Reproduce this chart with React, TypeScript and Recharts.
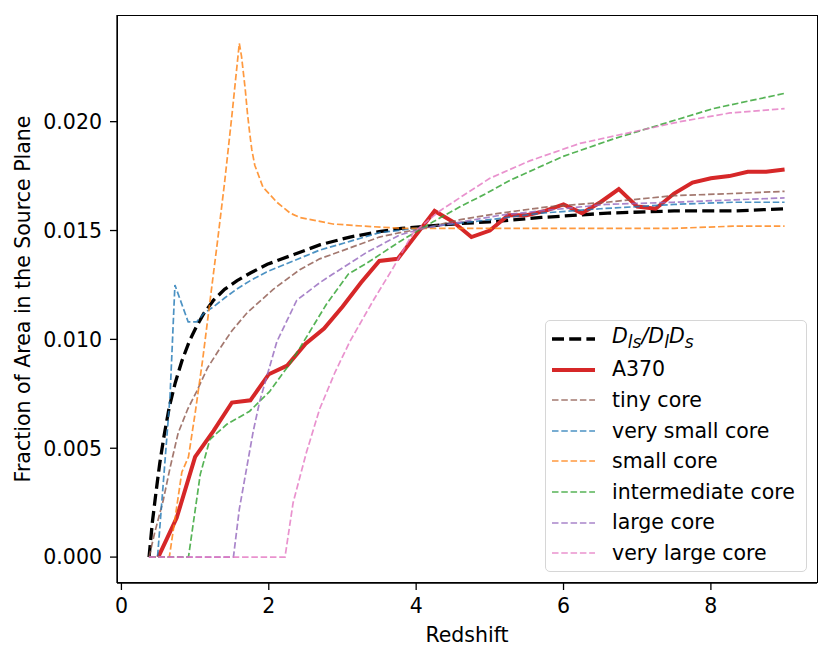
import { LineChart, Line, XAxis, YAxis, Legend } from 'recharts'

const FONT = '"DejaVu Sans", sans-serif'
const FONT_SIZE = 20.5

// redshift grids and fractions
const zLens = [0.375, 0.42, 0.47, 0.52, 0.58, 0.65, 0.73, 0.82, 0.92, 1.02, 1.12, 1.25, 1.4, 1.57, 1.75, 1.98, 2.34, 2.7, 3.1, 3.5, 3.8, 4.5, 5.0, 5.7, 6.6, 7.5, 8.3, 9.0]
const lensRatio = [0, 0.0016, 0.003, 0.0043, 0.0056, 0.0069, 0.008, 0.009, 0.0099, 0.0106, 0.0112, 0.0118, 0.0123, 0.0127, 0.01305, 0.01345, 0.0139, 0.01435, 0.0147, 0.01495, 0.0151, 0.0153, 0.0154, 0.0156, 0.0158, 0.0159, 0.0159, 0.016]

const zA370 = [0.5, 0.75, 1.0, 1.25, 1.5, 1.75, 2.0, 2.25, 2.5, 2.75, 3.0, 3.25, 3.5, 3.75, 4.0, 4.25, 4.5, 4.75, 5.0, 5.25, 5.5, 5.75, 6.0, 6.25, 6.5, 6.75, 7.0, 7.25, 7.5, 7.75, 8.0, 8.25, 8.5, 8.75, 9.0]
const a370 = [0, 0.0018, 0.0046, 0.0058, 0.0071, 0.0072, 0.0084, 0.0088, 0.0098, 0.0105, 0.0115, 0.0126, 0.0136, 0.0137, 0.0148, 0.0159, 0.0154, 0.0147, 0.015, 0.0157, 0.0157, 0.0159, 0.0162, 0.0158, 0.0163, 0.0169, 0.0161, 0.016, 0.0167, 0.0172, 0.0174, 0.0175, 0.0177, 0.0177, 0.0178]

const zTiny = [0.375, 0.45, 0.567, 0.66, 0.77, 0.9, 1.02, 1.17, 1.34, 1.5, 1.7, 2.06, 2.42, 2.69, 3.1, 3.5, 3.78, 4.1, 4.6, 5.14, 5.81, 6.58, 7.49, 8.3, 9.0]
const tinyCore = [0, 0.0011, 0.0026, 0.0041, 0.0057, 0.0068, 0.0076, 0.0087, 0.0096, 0.0104, 0.0112, 0.0123, 0.0132, 0.0137, 0.0142, 0.0147, 0.0149, 0.0151, 0.0155, 0.0158, 0.0161, 0.0163, 0.0166, 0.0167, 0.0168]

const zVerySmall = [0.375, 0.49, 0.66, 0.726, 0.906, 1.02, 1.12, 1.25, 1.4, 1.56, 1.75, 1.97, 2.33, 2.69, 3.1, 3.5, 4.0, 4.5, 5.0, 5.7, 6.5, 7.5, 8.3, 9.0]
const verySmallCore = [0, 0, 0.0074, 0.0125, 0.0108, 0.0108, 0.0112, 0.0115, 0.0119, 0.0123, 0.0127, 0.0131, 0.0136, 0.0141, 0.0145, 0.0149, 0.0151, 0.0153, 0.0155, 0.0158, 0.016, 0.0162, 0.0163, 0.0163]

const zSmall = [0.375, 0.65, 0.82, 0.91, 1.0, 1.1, 1.2, 1.3, 1.4, 1.5, 1.6, 1.63, 1.68, 1.71, 1.74, 1.77, 1.81, 1.92, 2.11, 2.29, 2.42, 2.87, 3.3, 3.8, 4.7, 5.5, 6.5, 7.5, 8.3, 9.0]
const smallCore = [0, 0, 0.0039, 0.0046, 0.0066, 0.009, 0.0117, 0.0144, 0.0172, 0.0203, 0.0236, 0.023, 0.0215, 0.0204, 0.0195, 0.0187, 0.018, 0.017, 0.0163, 0.0158, 0.0156, 0.0153, 0.0152, 0.0151, 0.0151, 0.0151, 0.0151, 0.0151, 0.0152, 0.0152]

const zIntermediate = [0.375, 0.91, 1.07, 1.2, 1.43, 1.74, 2.01, 2.29, 2.42, 2.78, 3.08, 3.33, 3.78, 4.23, 4.6, 4.95, 5.27, 5.99, 6.67, 7.35, 8.03, 9.0]
const intermediateCore = [0, 0, 0.0038, 0.0054, 0.0061, 0.0067, 0.0076, 0.0089, 0.0096, 0.0116, 0.013, 0.0135, 0.0145, 0.0154, 0.0161, 0.0167, 0.0173, 0.0184, 0.0192, 0.0199, 0.0206, 0.0213]

const zLarge = [0.375, 1.52, 1.6, 1.7, 1.79, 1.88, 2.11, 2.38, 2.69, 2.87, 3.33, 3.78, 4.1, 5.14, 5.68, 6.58, 7.49, 9.0]
const largeCore = [0, 0, 0.0022, 0.0041, 0.0058, 0.0072, 0.0099, 0.0118, 0.0126, 0.013, 0.014, 0.0148, 0.0151, 0.0157, 0.0159, 0.0162, 0.0163, 0.0165]

const zVeryLarge = [0.375, 2.22, 2.33, 2.51, 2.69, 2.9, 3.1, 3.42, 3.69, 3.96, 4.32, 4.68, 5.0, 5.54, 6.22, 6.9, 7.58, 8.26, 9.0]
const veryLargeCore = [0, 0, 0.0025, 0.0048, 0.0068, 0.0085, 0.0099, 0.0118, 0.0133, 0.0149, 0.0159, 0.0167, 0.0174, 0.0182, 0.019, 0.0195, 0.02, 0.0204, 0.0206]

const xTicks = [0, 2, 4, 6, 8]
const yTicks = [0, 0.005, 0.01, 0.015, 0.02]

const toPoints = (zs: number[], vs: number[]) => zs.map((z, i) => ({ z, v: vs[i] }))

type Series = {
  key: string
  label: React.ReactNode
  data: { z: number; v: number }[]
  color: string
  width: number
  dash?: string
  opacity: number
}

const MODEL_DASH = '6.5 2.8'

const series: Series[] = [
  {
    key: 'lens',
    label: (
      <i>
        D<sub>ls</sub>/D<sub>l</sub>D<sub>s</sub>
      </i>
    ),
    data: toPoints(zLens, lensRatio),
    color: '#000000',
    width: 3.3,
    dash: '12 5.2',
    opacity: 1,
  },
  { key: 'a370', label: 'A370', data: toPoints(zA370, a370), color: '#d62728', width: 4, opacity: 1 },
  { key: 'tiny', label: 'tiny core', data: toPoints(zTiny, tinyCore), color: '#8c564b', width: 1.7, dash: MODEL_DASH, opacity: 0.8 },
  { key: 'vsmall', label: 'very small core', data: toPoints(zVerySmall, verySmallCore), color: '#1f77b4', width: 1.7, dash: MODEL_DASH, opacity: 0.8 },
  { key: 'small', label: 'small core', data: toPoints(zSmall, smallCore), color: '#ff7f0e', width: 1.7, dash: MODEL_DASH, opacity: 0.8 },
  { key: 'inter', label: 'intermediate core', data: toPoints(zIntermediate, intermediateCore), color: '#2ca02c', width: 1.7, dash: MODEL_DASH, opacity: 0.8 },
  { key: 'large', label: 'large core', data: toPoints(zLarge, largeCore), color: '#9467bd', width: 1.7, dash: MODEL_DASH, opacity: 0.8 },
  { key: 'vlarge', label: 'very large core', data: toPoints(zVeryLarge, veryLargeCore), color: '#e377c2', width: 1.7, dash: MODEL_DASH, opacity: 0.8 },
]

function LegendBox() {
  return (
    <div
      style={{
        width: 262,
        height: 252,
        boxSizing: 'border-box',
        border: '1.3px solid #d6d6d6',
        borderRadius: 5,
        background: 'rgba(255,255,255,0.8)',
        paddingTop: 2.7,
        fontFamily: FONT,
        fontSize: FONT_SIZE,
        color: '#000',
      }}
    >
      {series.map((s) => (
        <div key={s.key} style={{ display: 'flex', alignItems: 'center', height: 30.6 }}>
          <svg width={66} height={30} style={{ flexShrink: 0 }}>
            <line
              x1={6}
              x2={49}
              y1={15}
              y2={15}
              stroke={s.color}
              strokeOpacity={s.opacity}
              strokeWidth={s.width}
              strokeDasharray={s.dash}
            />
          </svg>
          <span style={{ whiteSpace: 'nowrap', lineHeight: 1 }}>{s.label}</span>
        </div>
      ))}
    </div>
  )
}

function YLabel({ viewBox }: any) {
  const cy = viewBox.y + viewBox.height / 2
  return (
    <text
      x={23}
      y={cy}
      transform={`rotate(-90, 23, ${cy})`}
      textAnchor="middle"
      dominantBaseline="central"
      fontFamily={FONT}
      fontSize={FONT_SIZE}
      fill="#000"
    >
      Fraction of Area in the Source Plane
    </text>
  )
}

export default function App() {
  const tickStyle = { fontFamily: FONT, fontSize: FONT_SIZE, fill: '#000' }
  return (
    <div style={{ position: 'absolute', left: 0, top: 0, width: 832, height: 661, background: '#fff' }}>
      <LineChart width={832} height={661} margin={{ top: 15, right: 15, bottom: 0, left: 0 }}>
        <XAxis
          dataKey="z"
          type="number"
          domain={[-0.06, 9.44]}
          ticks={xTicks}
          allowDataOverflow
          height={78}
          tick={tickStyle}
          tickSize={7}
          tickMargin={8}
          axisLine={{ stroke: '#000', strokeWidth: 1.3 }}
          tickLine={{ stroke: '#000', strokeWidth: 1.3 }}
          label={{ value: 'Redshift', position: 'insideBottom', offset: 19, fontFamily: FONT, fontSize: FONT_SIZE, fill: '#000' }}
        />
        <YAxis
          type="number"
          domain={[-0.00119, 0.0249]}
          ticks={yTicks}
          allowDataOverflow
          width={117}
          tick={tickStyle}
          tickSize={7}
          tickMargin={8}
          tickFormatter={(v: number) => v.toFixed(3)}
          axisLine={{ stroke: '#000', strokeWidth: 1.3 }}
          tickLine={{ stroke: '#000', strokeWidth: 1.3 }}
          label={<YLabel />}
        />
        {series.map((s) => (
          <Line
            key={s.key}
            data={s.data}
            dataKey="v"
            type="linear"
            stroke={s.color}
            strokeOpacity={s.opacity}
            strokeWidth={s.width}
            strokeDasharray={s.dash}
            dot={false}
            activeDot={false}
            isAnimationActive={false}
          />
        ))}
        <Legend
          layout="vertical"
          align="center"
          verticalAlign="middle"
          content={() => <LegendBox />}
          wrapperStyle={{ left: 545, top: 320, width: 262, height: 252 }}
        />
      </LineChart>
      <div
        style={{
          position: 'absolute',
          left: 117,
          top: 15,
          width: 701,
          height: 568,
          boxSizing: 'border-box',
          border: '1.3px solid #000',
          pointerEvents: 'none',
        }}
      />
    </div>
  )
}
